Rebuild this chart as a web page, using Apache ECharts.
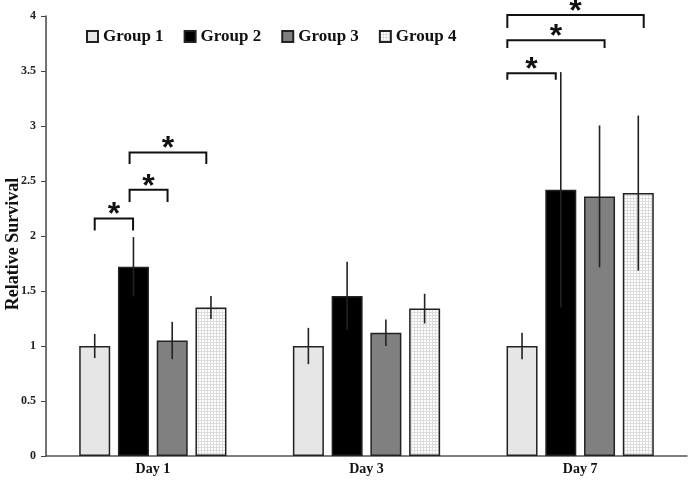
<!DOCTYPE html>
<html><head><meta charset="utf-8">
<script src="https://cdn.jsdelivr.net/npm/echarts@6/dist/echarts.min.js"></script>
<style>html,body{margin:0;padding:0;background:#fff}#c{width:692px;height:494px}</style>
</head><body><div id="c"></div>
<script>
const categories = ['Day 1', 'Day 3', 'Day 7'];
const groupNames = ['Group 1', 'Group 2', 'Group 3', 'Group 4'];
const group1 = [1.00, 1.00, 1.00];
const group2 = [1.72, 1.455, 2.42];
const group3 = [1.05, 1.12, 2.36];
const group4 = [1.35, 1.34, 2.39];
const err1 = [0.11, 0.165, 0.12];
const err2 = [0.27, 0.31, 1.07];
const err3 = [0.17, 0.12, 0.645];
const err4 = [0.105, 0.135, 0.705];
// significance brackets: [categoryIndex, fromGroupPos, toGroupPos, topValue, legEndValue]
const brackets = [
  [0, 0.0, 0.99, 2.16, 2.05],
  [0, 0.9, 1.88, 2.42, 2.31],
  [0, 0.9, 2.88, 2.76, 2.655],
  [2, -0.38, 0.87, 3.48, 3.42],
  [2, -0.38, 2.13, 3.78, 3.71],
  [2, -0.38, 3.14, 4.01, 3.89]
];

const BAR_W = 31;
const SP = BAR_W * 1.25;
const SERIF = '"Liberation Serif", "Times New Roman", serif';

function makePattern() {
  const cv = document.createElement('canvas');
  cv.width = 3; cv.height = 3;
  const ctx = cv.getContext('2d');
  ctx.fillStyle = '#ffffff'; ctx.fillRect(0, 0, 3, 3);
  ctx.fillStyle = '#dcdcdc';
  ctx.fillRect(0, 0, 3, 1);
  ctx.fillRect(0, 0, 1, 3);
  return cv;
}
const fills = ['#e6e6e6', '#000000', '#808080', { image: makePattern(), repeat: 'repeat' }];
const values = [group1, group2, group3, group4];
const errs = [err1, err2, err3, err4];

const series = [];
values.forEach((vals, g) => {
  series.push({
    name: groupNames[g], type: 'bar', data: vals, barWidth: BAR_W, barGap: '25%',
    itemStyle: { color: fills[g], borderColor: '#222', borderWidth: 1.5 },
    z: 2
  });
});
errs.forEach((e, g) => {
  series.push({
    name: 'err' + g, type: 'custom', z: 5, silent: true,
    data: values[g].map((v, i) => [i, v, e[i]]),
    encode: { x: 0, y: 1 },
    renderItem: function (params, api) {
      const c = api.value(0), v = api.value(1), er = api.value(2);
      const p1 = api.coord([c, v + er]), p2 = api.coord([c, v - er]);
      const x = p1[0] + (g - 1.5) * SP;
      return { type: 'line', shape: { x1: x, y1: p1[1], x2: x, y2: p2[1] },
        style: { stroke: '#222', lineWidth: 1.6 } };
    }
  });
});
series.push({
  name: 'brackets', type: 'custom', z: 6, silent: true, clip: false,
  data: brackets,
  encode: { x: 0, y: 3 },
  renderItem: function (params, api) {
    const c = api.value(0), f = api.value(1), t = api.value(2), yt = api.value(3), yb = api.value(4);
    const base = api.coord([c, yt]);
    const ybp = api.coord([c, yb])[1];
    const x1 = base[0] + (f - 1.5) * SP, x2 = base[0] + (t - 1.5) * SP;
    return { type: 'group', children: [
      { type: 'polyline', shape: { points: [[x1, ybp], [x1, base[1]], [x2, base[1]], [x2, ybp]] },
        style: { stroke: '#111', lineWidth: 2, fill: null } },
      { type: 'text', x: (x1 + x2) / 2, y: base[1] - 3,
        style: { text: '*', fill: '#111', font: 'bold 32px "Liberation Sans"', align: 'center', verticalAlign: 'middle' } }
    ] };
  }
});

const chart = echarts.init(document.getElementById('c'));
chart.setOption({
  animation: false,
  backgroundColor: '#fff',
  grid: { left: 46, right: 5, top: 16, bottom: 38, containLabel: false, outerBoundsMode: 'none' },
  legend: {
    data: groupNames, left: 81, top: 23, icon: 'rect', itemWidth: 11, itemHeight: 11, itemGap: 20,
    textStyle: { fontFamily: SERIF, fontWeight: 'bold', fontSize: 17, color: '#111' }
  },
  xAxis: {
    type: 'category', data: categories,
    axisLine: { lineStyle: { color: '#555', width: 1.5 } },
    axisTick: { show: false },
    axisLabel: { fontFamily: SERIF, fontWeight: 'bold', fontSize: 14, color: '#111', margin: 6 }
  },
  yAxis: {
    type: 'value', min: 0, max: 4, interval: 0.5,
    name: 'Relative Survival', nameLocation: 'middle', nameGap: 24, nameMoveOverlap: false,
    nameTextStyle: { fontFamily: SERIF, fontWeight: 'bold', fontSize: 18, color: '#111', padding: [0, 16, 0, 0] },
    axisLine: { show: true, lineStyle: { color: '#444', width: 1.5 } },
    axisTick: { show: true, length: 5, lineStyle: { color: '#444' } },
    splitLine: { show: false },
    axisLabel: { fontFamily: SERIF, fontWeight: 'bold', fontSize: 12, color: '#222', margin: 10 }
  },
  series: series
});
</script></body></html>
